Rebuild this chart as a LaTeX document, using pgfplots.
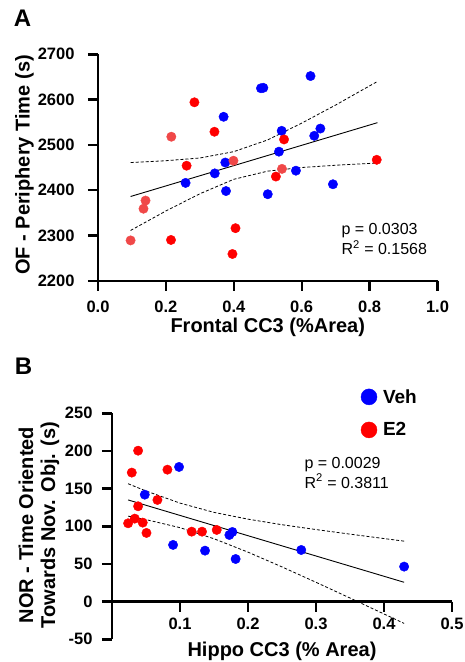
\documentclass[border=0pt]{standalone}
\usepackage{fontspec}
\setmainfont{Liberation Sans}
\usepackage{pgfplots}
\pgfplotsset{compat=1.18}

\definecolor{vehblue}{RGB}{0,0,255}
\definecolor{etwored}{RGB}{255,0,0}
\definecolor{lightred}{RGB}{240,72,72}

\pgfplotsset{
  dot/.style={only marks, mark=*, mark size=4.7pt, color=#1, mark options={fill=#1, draw=#1}},
  fitline/.style={no marks, black, line width=0.9pt, forget plot},
  ciline/.style={no marks, black, line width=0.8pt, dash pattern=on 3pt off 2pt, forget plot},
}
\tikzset{tk/.style={line width=2.4pt, black}}

\begin{document}
\begin{tikzpicture}
\path[use as bounding box] (0pt,0pt) rectangle (464pt,-662pt);

% ---- panel A
\node[font=\fontsize{24}{26}\selectfont\bfseries] at (22.5pt,-18.5pt) {A};
\begin{axis}[
  at={(98pt,-280.7pt)}, anchor=south west,
  width=339.5pt, height=226.4pt,
  scale only axis, clip=false,
  axis line style={line width=2.4pt},
  axis lines*=left,
  tick align=outside, major tick length=10pt,
  major tick style={line width=2.4pt,black},
  /pgf/number format/assume math mode=true,
  tick label style={font=\fontsize{16.5}{18}\selectfont\bfseries},
  xmin=0, xmax=1, ymin=2200, ymax=2700,
  xtick={0,0.2,0.4,0.6,0.8,1},
  ytick={2200,2300,2400,2500,2600,2700},
  xticklabel style={yshift=-7pt, /pgf/number format/fixed, /pgf/number format/fixed zerofill, /pgf/number format/precision=1},
  yticklabel style={xshift=-10pt, /pgf/number format/1000 sep={}},
  xlabel={Frontal CC3 (\%Area)},
  ylabel={OF - Periphery Time (s)},
  xlabel style={at={(axis description cs:0.5,-0.206)}, anchor=center, font=\fontsize{20}{22}\selectfont\bfseries},
  ylabel style={at={(axis description cs:-0.217,0.511)}, anchor=center, font=\fontsize{20}{22}\selectfont\bfseries},
]
\pgfplotsinvokeforeach{0,0.2,0.4,0.6,0.8,1}{\draw[tk] (axis cs:#1,2200) -- ++(0pt,-10pt);}
\pgfplotsinvokeforeach{2200,2300,2400,2500,2600,2700}{\draw[tk] (axis cs:0,#1) -- ++(-10pt,0pt);}
\addplot[fitline] coordinates {(0.096,2386) (0.823,2549)};
\addplot[ciline] coordinates {(0.096,2461) (0.2,2465) (0.3,2471) (0.4,2485) (0.5,2511) (0.6,2548) (0.7,2588) (0.823,2640)};
\addplot[ciline] coordinates {(0.096,2311) (0.2,2354) (0.3,2392) (0.4,2424) (0.5,2442) (0.6,2450) (0.7,2455) (0.823,2460)};
% Veh
\addplot[dot=vehblue] coordinates {
  (0.626,2652) (0.480,2625) (0.487,2626) (0.370,2562) (0.541,2531)
  (0.655,2536) (0.637,2520) (0.533,2485) (0.375,2461) (0.344,2437)
  (0.258,2416) (0.377,2398) (0.583,2443) (0.500,2391) (0.692,2413)};
% E2
\addplot[dot=lightred] coordinates {
  (0.216,2518) (0.399,2465) (0.542,2447) (0.140,2377) (0.134,2359) (0.096,2289)};
\addplot[dot=etwored] coordinates {
  (0.284,2594) (0.343,2529) (0.548,2512) (0.261,2454) (0.524,2430)
  (0.821,2467) (0.215,2290) (0.405,2316) (0.396,2259)};
\end{axis}
\node[anchor=west, align=left, font=\fontsize{16}{20}\selectfont] at (338pt,-239pt)
  {p = 0.0303\\R\textsuperscript{2} = 0.1568};

% ---- panel B
\node[font=\fontsize{24}{26}\selectfont\bfseries] at (23.5pt,-366pt) {B};
\begin{axis}[
  at={(112pt,-639.3pt)}, anchor=south west,
  width=340pt, height=226pt,
  scale only axis, clip=false,
  axis line style={line width=2.4pt},
  axis x line*=middle, axis y line*=left,
  tick align=outside, major tick length=10pt,
  major tick style={line width=2.4pt,black},
  /pgf/number format/assume math mode=true,
  tick label style={font=\fontsize{16.5}{18}\selectfont\bfseries},
  hide obscured x ticks=false, hide obscured y ticks=false,
  xmin=0, xmax=0.5, ymin=-50, ymax=250,
  xtick={0.1,0.2,0.3,0.4,0.5},
  ytick={-50,0,50,100,150,200,250},
  yticklabels={-50,0,50,100,150,200,250},
  xticklabel style={yshift=-3pt, /pgf/number format/fixed, /pgf/number format/fixed zerofill, /pgf/number format/precision=1},
  yticklabel style={xshift=-6pt},
  xlabel={Hippo CC3 (\% Area)},
  ylabel={NOR - Time Oriented\\Towards Nov. Obj. (s)},
  xlabel style={at={(axis description cs:0.5,-0.055)}, anchor=center, font=\fontsize{20}{22}\selectfont\bfseries},
  ylabel style={at={(axis description cs:-0.215,0.506)}, anchor=center, align=center, font=\fontsize{20}{22}\selectfont\bfseries},
  legend style={at={(axis description cs:0.723,1.125)}, anchor=north west,
    draw=none, fill=none, font=\fontsize{19}{21}\selectfont\bfseries, row sep=14pt,
    nodes={inner xsep=6pt}},
  legend cell align=left,
  legend image code/.code={\draw[#1] plot[mark size=8pt] coordinates {(0pt,0pt)};},
]
\pgfplotsinvokeforeach{0.1,0.2,0.3,0.4,0.5}{\draw[tk] (axis cs:#1,0) -- ++(0pt,-10pt);}
\pgfplotsinvokeforeach{-50,0,50,100,150,200,250}{\draw[tk] (axis cs:0,#1) -- ++(-10pt,0pt);}
\addplot[fitline] coordinates {(0.0237,135) (0.4296,25.7)};
\addplot[ciline] coordinates {(0.0237,156.5) (0.05,146.9) (0.1,130.8) (0.15,118.5) (0.2,109.5) (0.25,102.1) (0.3,95.7) (0.35,89.6) (0.4296,80.3)};
\addplot[ciline] coordinates {(0.0237,113.5) (0.05,108.9) (0.1,98.2) (0.15,83.5) (0.2,65.7) (0.25,46.1) (0.3,25.7) (0.35,4.8) (0.4296,-28.9)};
\addplot[dot=vehblue] coordinates {
  (0.0986,178.8) (0.0482,142) (0.0898,75.3) (0.1368,67.7) (0.1726,88.5)
  (0.1770,92.5) (0.1818,56.6) (0.2783,68.6) (0.4296,46.5)};
\addlegendentry{Veh}
\addplot[dot=etwored] coordinates {
  (0.0384,200.4) (0.0291,171.3) (0.0815,175.2) (0.0668,135) (0.0384,126.6)
  (0.0335,110.2) (0.0237,104) (0.0452,104.9) (0.0507,91.2) (0.1172,92.9)
  (0.1324,92.9) (0.1540,95.2)};
\addlegendentry{E2}
\end{axis}
\node[anchor=west, align=left, font=\fontsize{16}{19.5}\selectfont] at (301pt,-473pt)
  {p = 0.0029\\R\textsuperscript{2} = 0.3811};
\end{tikzpicture}
\end{document}
